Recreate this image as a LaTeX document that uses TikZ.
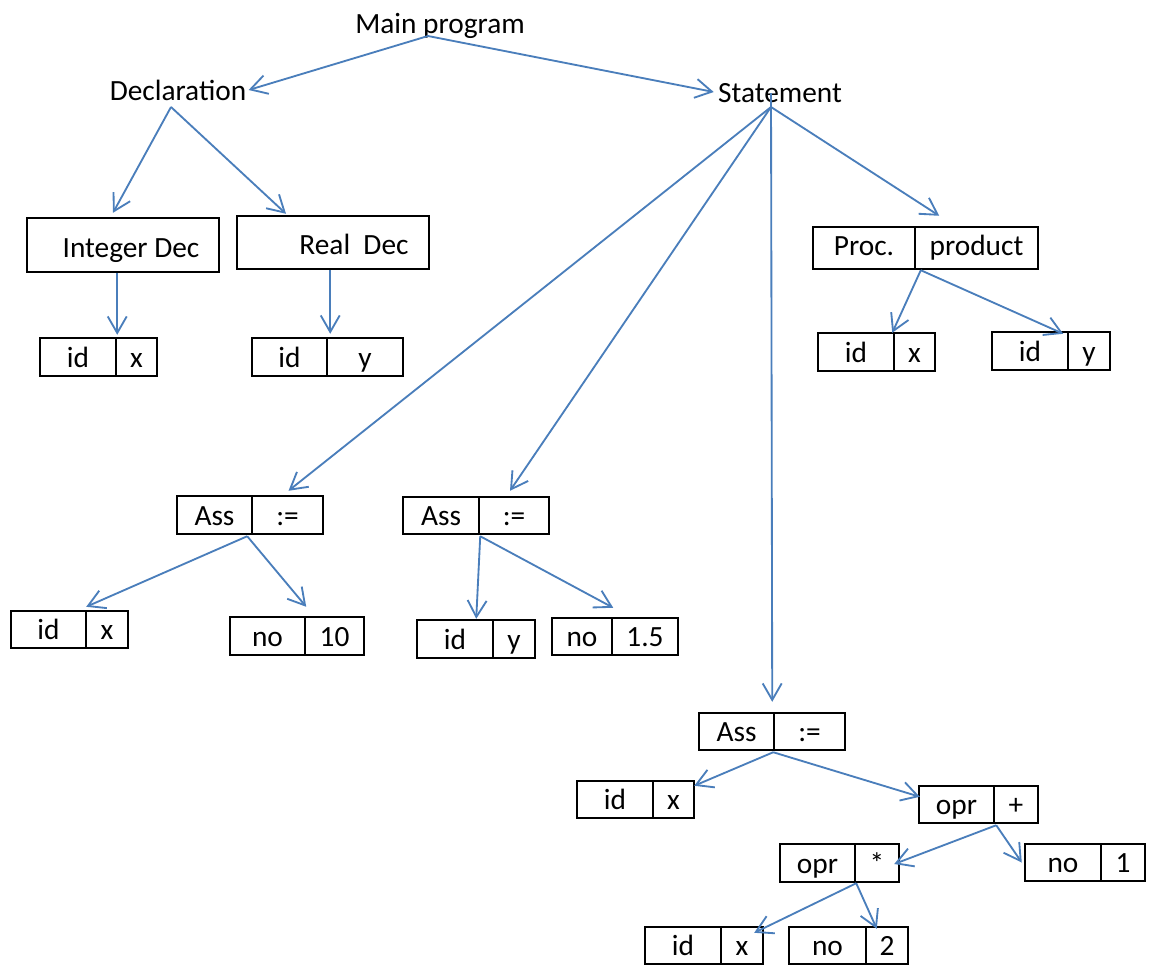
\documentclass[tikz,border=0pt]{standalone}
\usepackage{fontspec}
\setmainfont{Carlito}
\usetikzlibrary{arrows.meta,calc}
\definecolor{linkblue}{RGB}{74,126,187}
\tikzset{
  lbl/.style={inner sep=0pt, anchor=base},
  cell/.style={draw=black, line width=1.4pt, inner sep=0pt,
    text height=0.45cm, text depth=0.05cm},
  tallcell/.style={cell, text height=0.5cm, text depth=0.02cm},
  link/.style={draw=linkblue, line width=1.05pt,
    -{Straight Barb[length=0.33cm,width=0.38cm,line width=1.05pt]}},
}
% two-cell record: name, left x, divider x, right x, top y, bottom y, left text, right text
\newcommand{\pairbox}[8]{%
  \node[cell, minimum width={(#3-#2)*0.02cm}, minimum height={(#6-#5)*0.02cm}]
    (#1a) at ({(#2+#3)/2},{(#5+#6)/2}) {#7};
  \node[cell, minimum width={(#4-#3)*0.02cm}, minimum height={(#6-#5)*0.02cm}]
    (#1b) at ({(#3+#4)/2},{(#5+#6)/2}) {#8};
}
\begin{document}
\begin{tikzpicture}[x=0.02cm, y=-0.02cm, font=\fontsize{16.7}{20}\selectfont]
\useasboundingbox (0,0) rectangle (1163,967);

% plain labels
\node[lbl] (main) at (440,33) {Main program};
\node[lbl] (decl) at (178,100) {Declaration};
\node[lbl] (stmt) at (780,102) {Statement};

% declarations
\node[tallcell, minimum width=3.84cm, minimum height=1.08cm] (intdec) at (123,245)
  {\hspace*{0.32cm}Integer Dec};
\node[tallcell, minimum width=3.84cm, minimum height=1.06cm] (realdec) at (333,242.5)
  {\hspace*{0.84cm}Real~~Dec};
\pairbox{idxA}{40}{116}{157}{338}{376}{id}{x}
\pairbox{idyA}{252}{327}{403}{338}{376}{id}{y}

% procedure
\pairbox{proc}{813}{915}{1038}{227}{269}{\raisebox{0.06cm}{Proc.}}{\raisebox{0.06cm}{product}}
\pairbox{idxB}{818}{894}{935}{333}{371}{id}{x}
\pairbox{idyB}{992}{1068}{1110}{332}{370}{id}{y}

% first assignment
\pairbox{assA}{177}{252}{323}{496}{534}{Ass}{:=}
\pairbox{idxC}{11}{86}{128}{611}{648}{id}{x}
\pairbox{noA}{230}{305}{364}{617}{655}{no}{10}

% second assignment
\pairbox{assB}{403}{479}{549}{497}{534}{Ass}{:=}
\pairbox{idyC}{417}{493}{535}{620}{658}{id}{y}
\pairbox{noB}{552}{612}{678}{618}{655}{no}{1.5}

% third assignment
\pairbox{assC}{699}{774}{845}{713}{750}{Ass}{:=}
\pairbox{idxD}{577}{653}{694}{781}{818}{id}{x}
\pairbox{oprP}{919}{994}{1038}{786}{823}{opr}{+}
\pairbox{oprM}{780}{855}{899}{844}{882}{opr}{*}
\pairbox{noC}{1025}{1101}{1145}{844}{881}{no}{1}
\pairbox{idxE}{645}{721}{763}{927}{964}{id}{x}
\pairbox{noD}{789}{866}{908}{927}{964}{no}{2}

% connectors
\draw[link] ($(main.base)+(-12,3)$) -- ($(decl.base east)+(2,-10)$);
\draw[link] ($(main.base)+(-12,3)$) -- ($(stmt.base west)+(-4,-10)$);

\draw[link] ($(decl.base)+(-7,7)$) -- ($(intdec.north)+(-10,-4)$);
\draw[link] ($(decl.base)+(-7,7)$) -- ($(realdec.north)+(-47,-1)$);
\draw[link] (idxAa.north east |- intdec.south) -- ($(idxAa.north east)+(0,-2)$);
\draw[link] ($(idyAa.north east |- realdec.south)+(2,0)$) -- ($(idyAa.north east)+(2,-3)$);

\draw[link] ($(stmt.base)+(-9,5)$) -- ($(assAb.north)+(1,-4)$);
\draw[link] ($(stmt.base)+(-9,5)$) -- ($(assBb.north)+(-4,-5)$);
\draw[link] ($(stmt.base)+(-9,-9)$) -- ($(assCa.north east)+(-3,-10)$);
\draw[link] ($(stmt.base)+(-9,5)$) -- ($(proca.north east)+(23,-10)$);

\draw[link] ($(procb.south west)+(7,0)$) -- ($(idxBa.north east)+(-3,1)$);
\draw[link] ($(procb.south west)+(7,0)$) -- ($(idyBa.north east)+(-6,3)$);

\draw[link] ($(assAa.south east)+(-6,1)$) -- ($(idxCa.north east)+(-1,-3)$);
\draw[link] ($(assAa.south east)+(-6,1)$) -- ($(noAa.north east)+(0,-9)$);

\draw[link] ($(assBa.south east)+(0,1)$) -- ($(idyCa.north east)+(-18,0)$);
\draw[link] ($(assBa.south east)+(0,1)$) -- ($(noBa.north east)+(0,-9)$);

\draw[link] ($(assCa.south east)+(-2,1)$) -- ($(idxDb.north east)+(-1,6)$);
\draw[link] ($(assCa.south east)+(-2,1)$) -- ($(oprPa.north west)+(2,12)$);

\draw[link] ($(oprPa.south east)+(1,1)$) -- ($(oprMb.east)+(-6,1)$);
\draw[link] ($(oprPa.south east)+(1,1)$) -- ($(noCa.west)+(-2,0)$);

\draw[link] (oprMa.south east) -- ($(idxEb.north east)+(-10,7)$);
\draw[link] (oprMa.south east) -- ($(noDb.north west)+(12,3)$);
\end{tikzpicture}
\end{document}
